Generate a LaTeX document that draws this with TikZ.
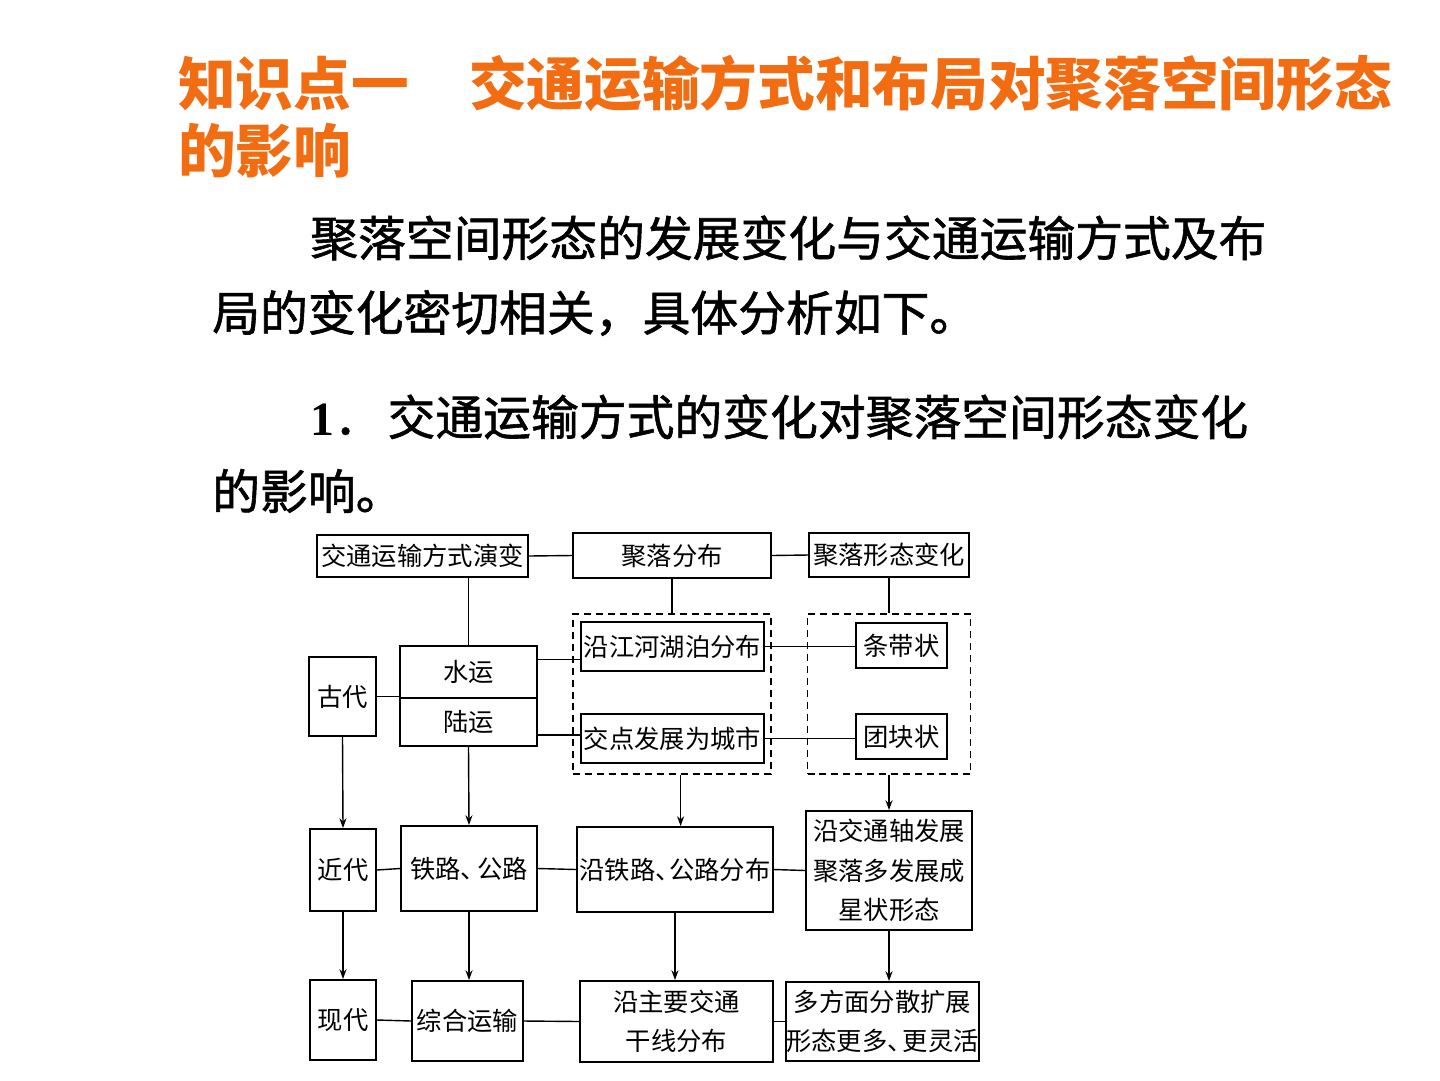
\documentclass[tikz,border=0pt]{standalone}
\usepackage{fontspec}
\setmainfont{Liberation Serif}
\newfontfamily\cjk{Noto Sans CJK SC}
\newfontfamily\cjkbody[FakeBold=1.2]{Noto Sans CJK SC}
\usetikzlibrary{arrows.meta,calc,positioning}
\definecolor{title-orange}{RGB}{242,108,18}
\tikzset{
    flow-box/.style = {draw=black, fill=white, line width=1.3pt, rectangle, inner sep=0pt, align=center, font=\cjk\fontsize{18}{28}\selectfont},
    box-size/.style 2 args = {minimum width=#1*0.025cm, minimum height=#2*0.025cm},
    dash-box/.style = {draw=black, line width=1pt, dash pattern=on 5pt off 3.5pt, rectangle, inner sep=0pt},
    link/.style = {draw=black, line width=1pt},
    flow-arrow/.style = {link, -{Stealth[length=7pt,width=5pt]}},
    title-text/.style = {text=title-orange, font=\cjk\bfseries\fontsize{41}{50}\selectfont, anchor=west, inner sep=0pt},
    body-text/.style = {text=black, font=\cjkbody\fontsize{34}{40}\selectfont, anchor=west, inner sep=0pt},
}

\begin{document}
\begin{tikzpicture}[x=0.025cm, y=-0.025cm]
\useasboundingbox (0,0) rectangle (1440,1080);

\node[title-text] (title-a) at (178,84) {知识点一\hspace{43pt}交通运输方式和布局对聚落空间形态};
\node[title-text] (title-b) at (178,151) {的影响};
\node[body-text] (intro-a) at (310,238) {聚落空间形态的发展变化与交通运输方式及布};
\node[body-text] (intro-b) at (212,313) {局的变化密切相关，具体分析如下。};
\node[body-text, font=\cjkbody\fontsize{34}{40}\selectfont] (point-a) at (310,417) {{\rmfamily\bfseries 1}．\hspace{4pt}交通运输方式的变化对聚落空间形态变化};
\node[body-text] (point-b) at (212,491) {的影响。};

\node[dash-box, box-size={198}{160}] (dash-dist) at (672,694) {};
\node[dash-box, box-size={163}{160}] (dash-form) at (889,694) {};

\node[flow-box, box-size={211}{42}] (trans-head) at (422.5,556) {交通运输方式演变};
\node[flow-box, box-size={198}{45}] (dist-head) at (672,555.5) {聚落分布};
\node[flow-box, box-size={160}{44}] (form-head) at (889,555) {聚落形态变化};

\node[flow-box, box-size={67}{79}] (ancient) at (342.5,696.5) {古代};
\node[flow-box, box-size={137}{52}] (water) at (468.5,672) {水运};
\node[flow-box, box-size={137}{48}] (land) at (468.5,722) {陆运};
\node[flow-box, box-size={183}{49}] (river) at (672.5,646.5) {沿江河湖泊分布};
\node[flow-box, box-size={183}{49}] (cross) at (672.5,738.5) {交点发展为城市};
\node[flow-box, box-size={91}{45}] (strip) at (901.5,645.5) {条带状};
\node[flow-box, box-size={91}{45}] (block) at (901.5,736.5) {团块状};

\node[flow-box, box-size={66}{82}] (recent) at (343,870) {近代};
\node[flow-box, box-size={136}{85}] (rail) at (469,868.5) {铁路、\kern-0.35em公路};
\node[flow-box, box-size={196}{85}] (along-rail) at (675,869.5) {沿铁路、\kern-0.45em公路分布};
\node[flow-box, box-size={166}{119}] (star) at (889,870.5) {沿交通轴发展\\聚落多发展成\\星状形态};

\node[flow-box, box-size={66}{80}] (modern) at (343,1020) {现代};
\node[flow-box, box-size={111}{80}] (multi-mode) at (467.5,1021) {综合运输};
\node[flow-box, box-size={193}{81}] (main-line) at (676.5,1021.5) {沿主要交通\\干线分布};
\node[flow-box, box-size={193}{79}] (spread) at (882.5,1021.5) {多方面分散扩展\\形态更多、\kern-0.4em更灵活};

\draw[link] (trans-head.east) -- (dist-head.west);
\draw[link] (dist-head.east) -- (form-head.west);
\draw[link] (water.north) -- (water.north |- trans-head.south);
\draw[link] (dist-head.south) -- (dash-dist.north);
\draw[link] (form-head.south) -- (dash-form.north);
\draw[link] (ancient.east) -- (ancient.east -| land.west);
\draw[link] ($(water.north east)!0.27!(water.south east)$) coordinate (water-out) -- (water-out -| river.west);
\draw[link] ($(land.north east)!0.76!(land.south east)$) coordinate (land-out) -- (land-out -| cross.west);
\draw[link] (river.east) -- (river.east -| strip.west);
\draw[link] (cross.east) -- (cross.east -| block.west);

\draw[flow-arrow] (ancient.south) -- (recent.north);
\draw[flow-arrow] (land.south) -- (rail.north);
\draw[flow-arrow] ([xshift=4pt]dash-dist.south -| along-rail.north) -- ([xshift=4pt]along-rail.north);
\draw[flow-arrow] (dash-form.south) -- (star.north);

\draw[link] (recent.east) -- (rail.west);
\draw[link] (rail.east) -- (along-rail.west);
\draw[link] (along-rail.east) -- (star.west);

\draw[flow-arrow] (recent.south) -- (modern.north);
\draw[flow-arrow] (rail.south) -- (rail.south |- multi-mode.north);
\draw[flow-arrow] (along-rail.south) -- (along-rail.south |- main-line.north);
\draw[flow-arrow] (star.south) -- (star.south |- spread.north);

\draw[link] (modern.east) -- (multi-mode.west);
\draw[link] (multi-mode.east) -- (main-line.west);
\draw[link] (main-line.east) -- (spread.west);
\end{tikzpicture}
\end{document}
